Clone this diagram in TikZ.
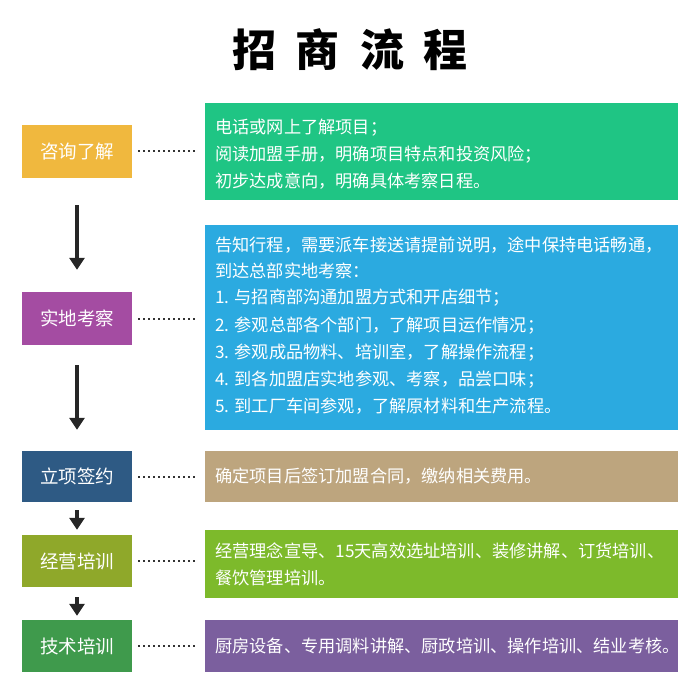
\documentclass[tikz,border=0pt]{standalone}
\usepackage{fontspec}
\setmainfont{Noto Sans CJK SC}
\usetikzlibrary{arrows.meta}
\definecolor{cA}{HTML}{F0B83E}\definecolor{cB}{HTML}{A44CA2}\definecolor{cC}{HTML}{2E5A84}
\definecolor{cD}{HTML}{8FA82A}\definecolor{cE}{HTML}{3F9A4C}
\definecolor{rA}{HTML}{1FC584}\definecolor{rB}{HTML}{2BAAE0}\definecolor{rC}{HTML}{BDA57E}
\definecolor{rD}{HTML}{7DBA2B}\definecolor{rE}{HTML}{7B5F9E}
\begin{document}
\begin{tikzpicture}[x=1pt,y=-1pt,
 lbox/.style={minimum width=110pt,inner sep=0pt,text=white,font=\fontsize{18.5}{20}\selectfont},
 rbox/.style={anchor=north west,minimum width=473pt,inner sep=0pt},
 txt/.style={anchor=west,text=white,inner sep=0pt,font=\fontsize{17.2}{19}\selectfont},
 dot/.style={line width=2pt,black!80,dash pattern=on 2pt off 3pt},
 arr/.style={line width=4pt,black!85,-{Triangle[length=12pt,width=15pt]}}]
\useasboundingbox (0,0) rectangle (700,700);
\node (t) at (350,50) {\fontsize{44}{48}\selectfont\bfseries 招\hspace{20pt}商\hspace{20pt}流\hspace{20pt}程};
% left
\node[lbox,fill=cA,minimum height=53pt] (l1) at (77,151.5) {咨询了解};
\node[lbox,fill=cB,minimum height=53pt] (l2) at (77,318.5) {实地考察};
\node[lbox,fill=cC,minimum height=51pt] (l3) at (77,476.5) {立项签约};
\node[lbox,fill=cD,minimum height=52pt] (l4) at (77,561) {经营培训};
\node[lbox,fill=cE,minimum height=52pt] (l5) at (77,646) {技术培训};
% right
\node[rbox,fill=rA,minimum height=97pt] (r1) at (205,103) {};
\node[rbox,fill=rB,minimum height=205pt] (r2) at (205,225) {};
\node[rbox,fill=rC,minimum height=51pt] (r3) at (205,451) {};
\node[rbox,fill=rD,minimum height=68pt] (r4) at (205,530) {};
\node[rbox,fill=rE,minimum height=52pt] (r5) at (205,620) {};
\node[txt] (a1) at (215,128) {电话或网上了解项目；};
\node[txt] (a2) at (215,155) {阅读加盟手册，明确项目特点和投资风险；};
\node[txt] (a3) at (215,181) {初步达成意向，明确具体考察日程。};
\node[txt] (b1) at (215,245) {告知行程，需要派车接送请提前说明，途中保持电话畅通，};
\node[txt] (b2) at (215,271) {到达总部实地考察：};
\node[txt] (b3) at (215,298) {1. 与招商部沟通加盟方式和开店细节；};
\node[txt] (b4) at (215,326) {2. 参观总部各个部门，了解项目运作情况；};
\node[txt] (b5) at (215,353) {3. 参观成品物料、培训室，了解操作流程；};
\node[txt] (b6) at (215,380) {4. 到各加盟店实地参观、考察，品尝口味；};
\node[txt] (b7) at (215,406) {5. 到工厂车间参观，了解原材料和生产流程。};
\node[txt] (c1) at (215,476.5) {确定项目后签订加盟合同，缴纳相关费用。};
\node[txt] (d1) at (215,551) {经营理念宣导、15天高效选址培训、装修讲解、订货培训、};
\node[txt] (d2) at (215,578) {餐饮管理培训。};
\node[txt] (e1) at (215,646) {厨房设备、专用调料讲解、厨政培训、操作培训、结业考核。};
% dotted connectors
\foreach \i in {1,...,5}{\draw[dot] ([xshift=6pt]l\i.east) -- ([xshift=-7pt]l\i.east -| r\i.west);}
\draw[arr] ([yshift=-27pt]l1.south) -- ([yshift=22pt]l2.north);
\draw[arr] ([yshift=-20pt]l2.south) -- ([yshift=21pt]l3.north);
\draw[arr] ([yshift=-8pt]l3.south) -- ([yshift=5pt]l4.north);
\draw[arr] ([yshift=-10pt]l4.south) -- ([yshift=4pt]l5.north);
\end{tikzpicture}
\end{document}
